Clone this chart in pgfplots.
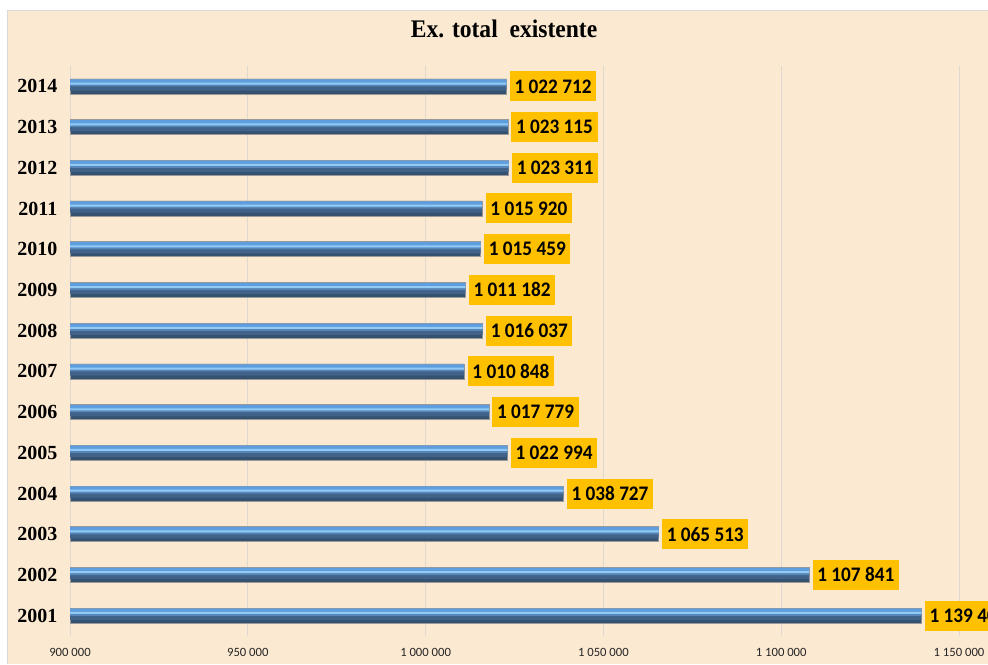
\documentclass[border=0pt]{standalone}
\usepackage{fontspec}
\setmainfont{Liberation Serif}
\newfontfamily\carlito{Carlito}
\usepackage{pgfplots}
\pgfplotsset{compat=1.18}

\definecolor{bgpeach}{HTML}{FCE9D1}
\definecolor{labelbg}{HTML}{FFC000}
\definecolor{gridc}{HTML}{DED8D0}
\definecolor{bdark}{HTML}{34516F}
\definecolor{bmid}{HTML}{41638A}
\definecolor{bmid2}{HTML}{5686B8}
\definecolor{bhigh}{HTML}{92CAF4}
\definecolor{btop}{HTML}{5E9EDE}

\pgfplotstableread{
x       y
1139400 2001
1107841 2002
1065513 2003
1038727 2004
1022994 2005
1017779 2006
1010848 2007
1016037 2008
1011182 2009
1015459 2010
1015920 2011
1023311 2012
1023115 2013
1022712 2014
}\extable

\begin{document}
\begin{tikzpicture}
  % chart area background
  \fill[bgpeach] (-47.25pt,-21pt) rectangle (700pt,469.5pt);
  \draw[black!15, line width=0.6pt] (-47.25pt,-21pt) -- (-47.25pt,469.5pt) -- (700pt,469.5pt);

  \begin{axis}[
      scale only axis,
      width=688.5pt, height=427.5pt,
      xmin=900000, xmax=1158155,
      ymin=2000.5, ymax=2014.5,
      xtick={900000,950000,1000000,1050000,1100000,1150000},
      xticklabels={900 000, 950 000, 1 000 000, 1 050 000, 1 100 000, 1 150 000},
      ytick={2001,...,2014},
      yticklabels={2001,2002,2003,2004,2005,2006,2007,2008,2009,2010,2011,2012,2013,2014},
      xmajorgrids, major grid style={gridc, line width=0.6pt},
      axis line style={draw=none},
      major tick length=0pt,
      xticklabel style={font=\carlito\fontsize{9.5}{11}\selectfont, text=black!85, yshift=-6pt},
      yticklabel style={font=\bfseries\fontsize{15}{17}\selectfont, xshift=-6pt},
      title={\scalebox{0.93}[1]{Ex. total\ \ existente}},
      title style={font=\bfseries\fontsize{19}{22}\selectfont, at={(0.4728,1.051)}, anchor=center},
      clip=false,
      xbar,
    ]

    % 3D-looking bars built from stacked bands
    \addplot[bar width=11.25pt, bar shift=0pt, fill=bdark, draw=black!40, line width=0.4pt]
      table[x=x, y=y] {\extable};
    \addplot[bar width=4.5pt, bar shift=-0.9pt, fill=bmid, draw=none]
      table[x=x, y=y] {\extable};
    \addplot[bar width=4.6pt, bar shift=3.0pt, fill=btop, draw=none]
      table[x=x, y=y] {\extable};
    \addplot[bar width=1.4pt, bar shift=0.6pt, fill=bmid2, draw=none]
      table[x=x, y=y] {\extable};
    \addplot[bar width=1.5pt, bar shift=2.1pt, fill=bhigh, draw=none]
      table[x=x, y=y] {\extable};

    % value labels
    \addplot[bar width=0pt, bar shift=0pt, draw=none, fill=none,
      point meta=explicit symbolic,
      nodes near coords={\scalebox{0.93}[1]{\pgfplotspointmeta}},
      nodes near coords style={anchor=west, xshift=2.5pt, fill=labelbg,
        font=\carlito\bfseries\fontsize{15.5}{17}\selectfont, text=black,
        inner xsep=3.5pt, inner ysep=0pt, minimum height=22.5pt}]
      coordinates {
        (1139400,2001) [1 139 400]
        (1107841,2002) [1 107 841]
        (1065513,2003) [1 065 513]
        (1038727,2004) [1 038 727]
        (1022994,2005) [1 022 994]
        (1017779,2006) [1 017 779]
        (1010848,2007) [1 010 848]
        (1016037,2008) [1 016 037]
        (1011182,2009) [1 011 182]
        (1015459,2010) [1 015 459]
        (1015920,2011) [1 015 920]
        (1023311,2012) [1 023 311]
        (1023115,2013) [1 023 115]
        (1022712,2014) [1 022 712]
      };
  \end{axis}

  \pgfresetboundingbox
  \path (-52.5pt,-21pt) rectangle (688.5pt,477pt);
\end{tikzpicture}
\end{document}
